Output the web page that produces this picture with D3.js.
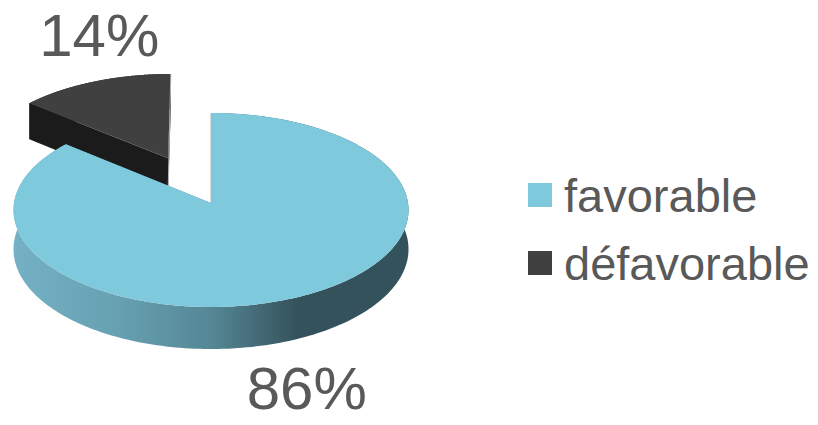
<!DOCTYPE html>
<html>
<head>
<meta charset="utf-8">
<script src="https://cdn.jsdelivr.net/npm/d3@7"></script>
<style>
  html, body { margin: 0; padding: 0; background: #ffffff; }
  svg { display: block; }
  text { font-family: "Liberation Sans", Arial, sans-serif; fill: #595959; }
</style>
</head>
<body>
<svg id="chart" width="818" height="425"></svg>
<script>
// Opinion split
const categories = ["favorable", "défavorable"];
const values = [86, 14];
const valueLabels = ["86%", "14%"];

// Styling per category
const topColors = ["#7fc9dd", "#404040"];
const frontColors = ["#5b8f9e", "#1b1b1b"];
const explode = [0, 0.53];              // pull-out distance, in radius units
const labelNudge = [[6, 71], [5, -26]]; // label offset from the slice's outer rim mid-point

const W = 818, H = 425;
const cx = 211, cy = 203;   // pie centre on screen
const rx = 197, ry = 96.5;  // projected radius horizontally / vertically
const depth = 39;           // thickness of the disc
const persp = 0.072;        // far side shrinks slightly
const N = 240;

const svg = d3.select("#chart");

// Perspective projection of a disc point: u right, v away from viewer, h downward
function project(u, v, h) {
  const s = 1 / (1 + persp * v);
  return [cx + rx * u * s, cy - ry * v * s + h * s];
}

const pie = d3.pie().sort(null).startAngle(0).endAngle(2 * Math.PI);
const arcs = pie(values);

const line = d3.line();

function slicePoints(d, i) {
  const mid = (d.startAngle + d.endAngle) / 2;
  const ou = explode[i] * Math.sin(mid), ov = explode[i] * Math.cos(mid);
  const angles = d3.range(N + 1).map(k => d.startAngle + (d.endAngle - d.startAngle) * k / N);
  const rim = h => angles.map(a => project(ou + Math.sin(a), ov + Math.cos(a), h));
  const apex = h => project(ou, ov, h);
  return { mid, ou, ov, rim, apex };
}

// Gradient for the visible outer wall of the large slice
const defs = svg.append("defs");
const grad = defs.append("linearGradient")
  .attr("id", "wallGrad")
  .attr("gradientUnits", "userSpaceOnUse")
  .attr("x1", cx - rx).attr("x2", cx + rx)
  .attr("y1", 0).attr("y2", 0);
[[0, "#74b1c4"], [0.25, "#67a2b3"], [0.5, "#558795"], [0.72, "#34525c"], [1, "#34525c"]]
  .forEach(([o, c]) => grad.append("stop").attr("offset", o).attr("stop-color", c));

const wallFill = ["url(#wallGrad)", "#2a2a2a"];

// draw the pulled-out slice first (it sits behind), then the big one
const order = [1, 0];
order.forEach(i => {
  const d = arcs[i];
  const p = slicePoints(d, i);
  const g = svg.append("g").attr("class", "slice slice-" + i);

  // outer wall
  const topRim = p.rim(0), botRim = p.rim(depth);
  g.append("path")
    .attr("d", line(topRim.concat(botRim.slice().reverse())) + "Z")
    .attr("fill", wallFill[i]);

  // radial cut faces
  [d.startAngle, d.endAngle].forEach(a => {
    const r0 = project(p.ou + Math.sin(a), p.ov + Math.cos(a), 0);
    const r1 = project(p.ou + Math.sin(a), p.ov + Math.cos(a), depth);
    g.append("path")
      .attr("d", line([p.apex(0), r0, r1, p.apex(depth)]) + "Z")
      .attr("fill", frontColors[i]);
  });

  // top face
  g.append("path")
    .attr("d", line([p.apex(0)].concat(topRim)) + "Z")
    .attr("fill", topColors[i]);

  // light edge where the cut at 12 o'clock is seen edge-on
  const a0 = Math.abs(Math.sin(d.startAngle)) < 1e-6 ? d.startAngle : d.endAngle;
  const rimTop = project(p.ou + Math.sin(a0), p.ov + Math.cos(a0), 0);
  const lowEnd = i === 0 ? p.apex(0) : p.apex(depth);
  g.append("line")
    .attr("x1", rimTop[0]).attr("y1", rimTop[1])
    .attr("x2", lowEnd[0]).attr("y2", lowEnd[1])
    .attr("stroke", "#b5b5b5").attr("stroke-width", 1);
});

// value labels
arcs.forEach((d, i) => {
  const p = slicePoints(d, i);
  const onFront = Math.cos(p.mid) < 0;
  const rimMid = project(p.ou + Math.sin(p.mid), p.ov + Math.cos(p.mid), onFront ? depth : 0);
  svg.append("text")
    .attr("x", rimMid[0] + labelNudge[i][0])
    .attr("y", rimMid[1] + labelNudge[i][1])
    .attr("text-anchor", "middle")
    .attr("font-size", 60)
    .text(valueLabels[i]);
});

// legend
const legend = svg.append("g").attr("transform", "translate(528,183)");
const rowStep = 68;
categories.forEach((c, i) => {
  const row = legend.append("g").attr("transform", `translate(0,${i * rowStep})`);
  row.append("rect").attr("width", 24).attr("height", 24).attr("fill", topColors[i]);
  row.append("text").attr("x", 36).attr("y", 29).attr("font-size", 47).text(c);
});
</script>
</body>
</html>
